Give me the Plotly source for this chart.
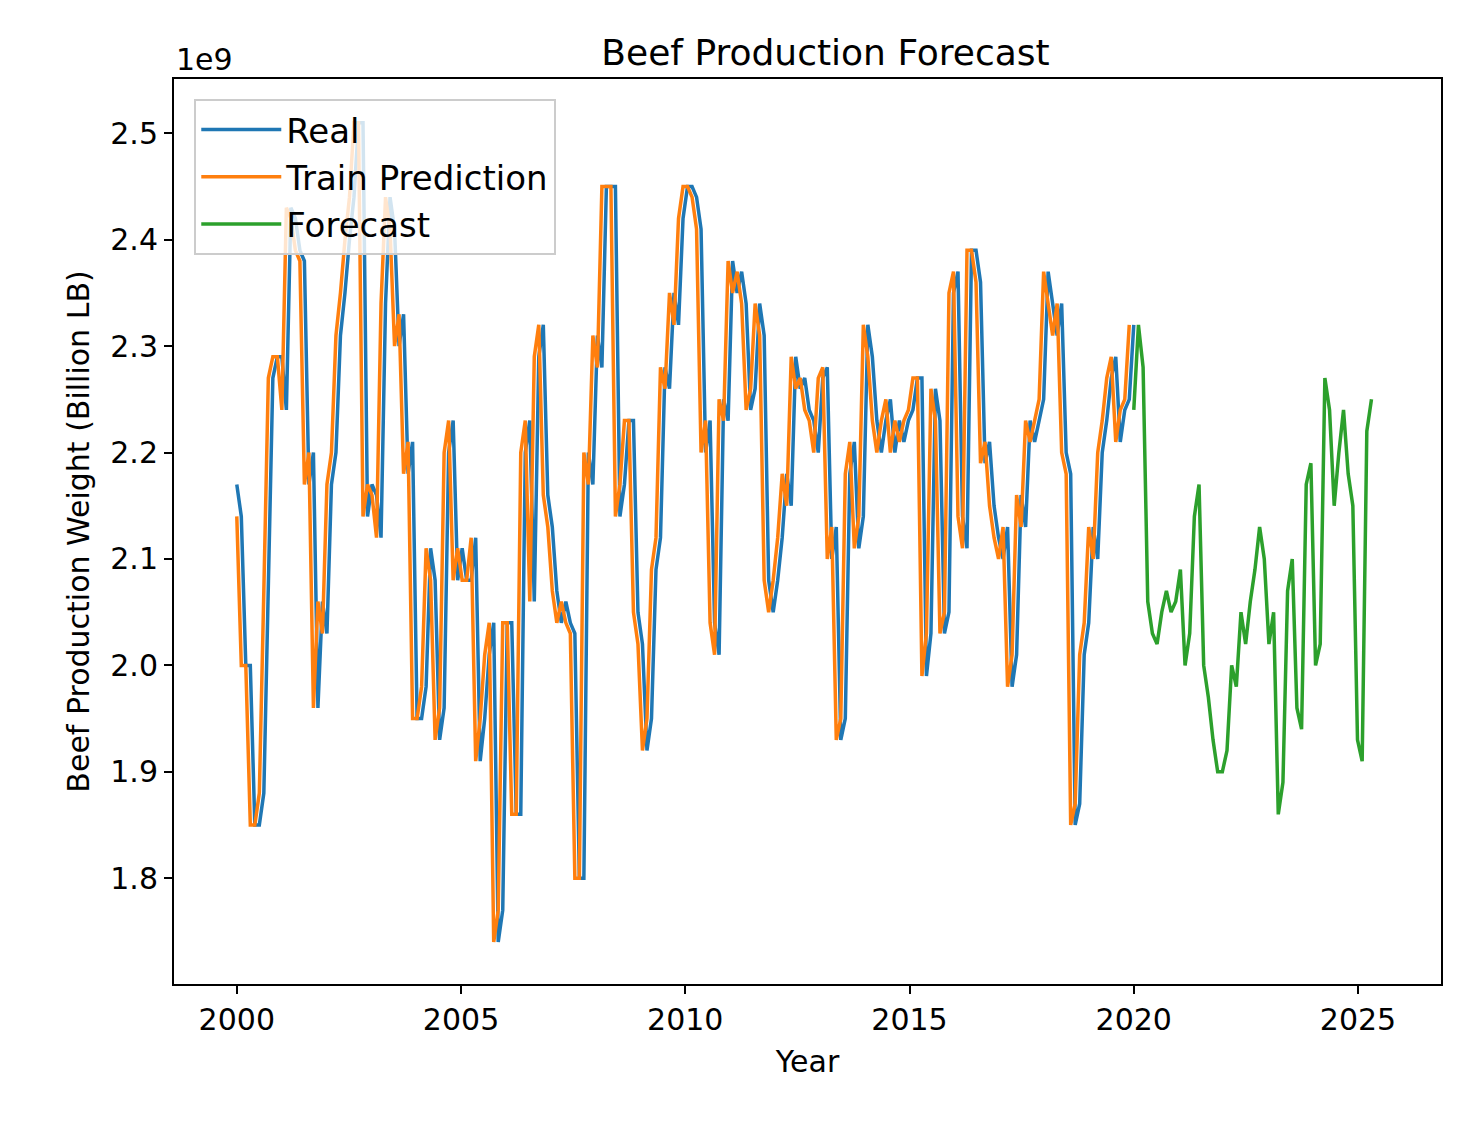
import numpy as np
import plotly.graph_objects as go

real = [2.17,2.14,2.00,2.00,1.85,1.85,1.88,2.07,2.27,2.29,2.29,2.24,2.43,2.42,2.39,2.38,2.17,2.20,1.96,2.06,
2.03,2.17,2.20,2.31,2.35,2.40,2.44,2.51,2.51,2.14,2.17,2.16,2.12,2.34,2.44,2.41,2.30,2.33,2.18,2.21,
1.95,1.95,1.98,2.11,2.08,1.93,1.96,2.20,2.23,2.08,2.11,2.08,2.08,2.12,1.91,1.95,2.01,2.04,1.74,1.77,
2.04,2.04,1.86,1.86,2.20,2.23,2.06,2.29,2.32,2.16,2.13,2.07,2.04,2.06,2.04,2.03,1.80,1.80,2.20,2.17,
2.31,2.28,2.45,2.45,2.45,2.14,2.17,2.23,2.23,2.05,2.02,1.92,1.95,2.09,2.12,2.28,2.26,2.35,2.32,2.42,
2.45,2.45,2.44,2.41,2.20,2.23,2.04,2.01,2.25,2.23,2.38,2.35,2.37,2.34,2.24,2.26,2.34,2.31,2.08,2.05,
2.08,2.12,2.18,2.15,2.29,2.26,2.27,2.24,2.23,2.20,2.27,2.28,2.10,2.13,1.93,1.95,2.18,2.21,2.11,2.14,
2.32,2.29,2.23,2.20,2.23,2.25,2.20,2.23,2.21,2.23,2.24,2.27,2.27,1.99,2.03,2.26,2.23,2.03,2.05,2.35,
2.37,2.14,2.11,2.39,2.39,2.36,2.19,2.21,2.15,2.12,2.10,2.13,1.98,2.01,2.16,2.13,2.23,2.21,2.23,2.25,
2.37,2.34,2.31,2.34,2.20,2.18,1.85,1.87,2.01,2.04,2.13,2.10,2.20,2.23,2.27,2.29,2.21,2.24,2.25,2.32]

forecast = [2.24,2.32,2.28,2.06,2.03,2.02,2.05,2.07,2.05,2.06,2.09,2.00,2.03,2.14,2.17,2.00,1.97,1.93,1.90,1.90,
1.92,2.00,1.98,2.05,2.02,2.06,2.09,2.13,2.10,2.02,2.05,1.86,1.89,2.07,2.10,1.96,1.94,2.17,2.19,2.00,
2.02,2.27,2.24,2.15,2.20,2.24,2.18,2.15,1.93,1.91,2.22,2.25]

real_x = np.linspace(2000, 2020.0, len(real))
train = real[1:]
train_x = real_x[:-1]
fc_x = np.linspace(2020.0, 2025.3, len(forecast))

fig = go.Figure()
fig.add_trace(go.Scatter(x=real_x, y=real, mode="lines", name="Real", line=dict(color="#1f77b4", width=3.5)))
fig.add_trace(go.Scatter(x=train_x, y=train, mode="lines", name="Train Prediction", line=dict(color="#ff7f0e", width=3.5)))
fig.add_trace(go.Scatter(x=fc_x, y=forecast, mode="lines", name="Forecast", line=dict(color="#2ca02c", width=3.5)))

axis_common = dict(showgrid=False, zeroline=False, showline=True, linecolor="black", linewidth=2, mirror=True,
                   ticks="outside", ticklen=8, tickwidth=2, tickcolor="black", tickfont=dict(size=30, color="black"))
fig.update_layout(
    width=1481, height=1141, paper_bgcolor="white", plot_bgcolor="white",
    font=dict(family="DejaVu Sans", color="black"),
    margin=dict(l=166, r=48, t=71, b=165),
    title=dict(text="Beef Production Forecast", x=0.552, xanchor="center", y=0.972, font=dict(size=36)),
    xaxis=dict(range=[1998.6, 2026.85], tickvals=[2000,2005,2010,2015,2020,2025],
               title=dict(text="Year", font=dict(size=30)), **axis_common),
    yaxis=dict(range=[1.7006, 2.551], tickvals=[1.8,1.9,2.0,2.1,2.2,2.3,2.4,2.5], tickformat=".1f",
               title=dict(text="Beef Production Weight (Billion LB)", font=dict(size=30), standoff=12), **axis_common),
    legend=dict(x=0.016, y=0.978, xanchor="left", yanchor="top", bgcolor="rgba(255,255,255,0.8)",
                bordercolor="#cccccc", borderwidth=2, font=dict(size=34), itemwidth=80, tracegroupgap=10),
    annotations=[dict(text="1e9", x=0, y=1.0, xref="paper", yref="paper", xanchor="left", yanchor="bottom",
                      showarrow=False, font=dict(size=30))],
)
fig.write_html("out.html")
